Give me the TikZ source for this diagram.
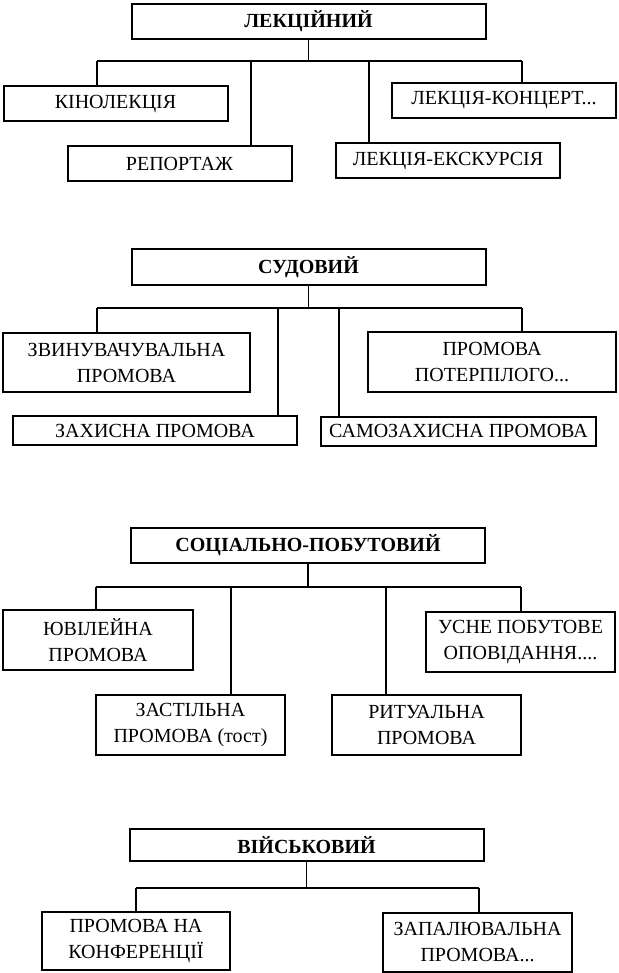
\documentclass[tikz,border=0pt]{standalone}
\usepackage{fontspec}
\setmainfont{Liberation Serif}
\usepackage{tikz}

\begin{document}
\begin{tikzpicture}[
            x=0.5pt, y=-0.5pt,
            font=\fontsize{10}{13}\selectfont,
            box/.style={draw, line width=1pt, align=center, inner sep=0pt,
                minimum width=#1, minimum height=17.5pt},
            box/.default=112pt,
            head/.style={box=177pt, font=\fontsize{10}{13}\selectfont\bfseries},
            wire/.style={line width=0.7pt}
        ]
        \useasboundingbox (0, 0) rectangle (618, 973);

        % lecture
        \node[head] (lek) at (308.5, 21.5) {ЛЕКЦІЙНИЙ};
        \node[box] (kino) at (115.5, 104) {КІНОЛЕКЦІЯ};
        \node[box] (rep) at (179.5, 163.5) {РЕПОРТАЖ};
        \node[box] (eksk) at (448, 161) {ЛЕКЦІЯ-ЕКСКУРСІЯ};
        \node[box] (konc) at (504, 100.5) {ЛЕКЦІЯ-КОНЦЕРТ...};
        \coordinate (lekA) at (97, 61);
        \coordinate (lekB) at (251, 61);
        \coordinate (lekC) at (369, 61);
        \coordinate (lekD) at (522, 61);
        \draw[wire] (lek.south) -- (lek.south |- lekA);
        \draw[wire] (lekA) -- (lekD);
        \draw[wire] (lekA) -- (lekA |- kino.north);
        \draw[wire] (lekB) -- (lekB |- rep.north);
        \draw[wire] (lekC) -- (lekC |- eksk.north);
        \draw[wire] (lekD) -- (lekD |- konc.north);

        % court
        \node[head, minimum height=18pt] (sud) at (308.5, 267) {СУДОВИЙ};
        \node[box=123.5pt, minimum height=29.5pt] (zvyn) at (126.5, 362.5) {ЗВИНУВАЧУВАЛЬНА\\ПРОМОВА};
        \node[box=142pt, minimum height=14.5pt] (zakh) at (155, 430.5) {ЗАХИСНА ПРОМОВА};
        \node[box=137.5pt, minimum height=14.5pt] (samo) at (458.5, 431) {САМОЗАХИСНА ПРОМОВА};
        \node[box=124pt, minimum height=30pt] (poter) at (492, 362) {ПРОМОВА\\ПОТЕРПІЛОГО...};
        \coordinate (sudA) at (97, 308);
        \coordinate (sudB) at (278, 308);
        \coordinate (sudC) at (339, 308);
        \coordinate (sudD) at (522, 308);
        \draw[wire] (sud.south) -- (sud.south |- sudA);
        \draw[wire] (sudA) -- (sudD);
        \draw[wire] (sudA) -- (sudA |- zvyn.north);
        \draw[wire] (sudB) -- (sudB |- zakh.north);
        \draw[wire] (sudC) -- (sudC |- samo.north);
        \draw[wire] (sudD) -- (sudD |- poter.north);

        % social
        \node[head] (soc) at (308, 545.5) {СОЦІАЛЬНО-ПОБУТОВИЙ};
        \node[box=95pt, minimum height=30pt] (yuv) at (98, 640) {ЮВІЛЕЙНА\\ПРОМОВА};
        \node[box=94.5pt, minimum height=30pt] (zast) at (190.5, 725) {ЗАСТІЛЬНА\\ПРОМОВА (тост)};
        \node[box=94.5pt, minimum height=30pt] (ryt) at (426.5, 725) {РИТУАЛЬНА\\ПРОМОВА};
        \node[box=94.5pt, minimum height=30pt] (usne) at (520.5, 642) {УСНЕ ПОБУТОВЕ\\ОПОВІДАННЯ....};
        \coordinate (socA) at (96, 587);
        \coordinate (socB) at (231, 587);
        \coordinate (socC) at (386, 587);
        \coordinate (socD) at (521, 587);
        \draw[wire] (soc.south) -- (soc.south |- socA);
        \draw[wire] (socA) -- (socD);
        \draw[wire] (socA) -- (socA |- yuv.north);
        \draw[wire] (socB) -- (socB |- zast.north);
        \draw[wire] (socC) -- (socC |- ryt.north);
        \draw[wire] (socD) -- (socD |- usne.north);

        % military
        \node[head, minimum height=16pt] (viy) at (306.5, 845) {ВІЙСЬКОВИЙ};
        \node[box=94pt, minimum height=29pt] (konf) at (136, 941) {ПРОМОВА НА\\КОНФЕРЕНЦІЇ};
        \node[box=94.5pt, minimum height=29.5pt] (zapal) at (477.5, 942.5) {ЗАПАЛЮВАЛЬНА\\ПРОМОВА...};
        \coordinate (viyA) at (136, 888);
        \coordinate (viyB) at (479, 888);
        \draw[wire] (viy.south) -- (viy.south |- viyA);
        \draw[wire] (viyA) -- (viyB);
        \draw[wire] (viyA) -- (viyA |- konf.north);
        \draw[wire] (viyB) -- (viyB |- zapal.north);
    \end{tikzpicture}
\end{document}
